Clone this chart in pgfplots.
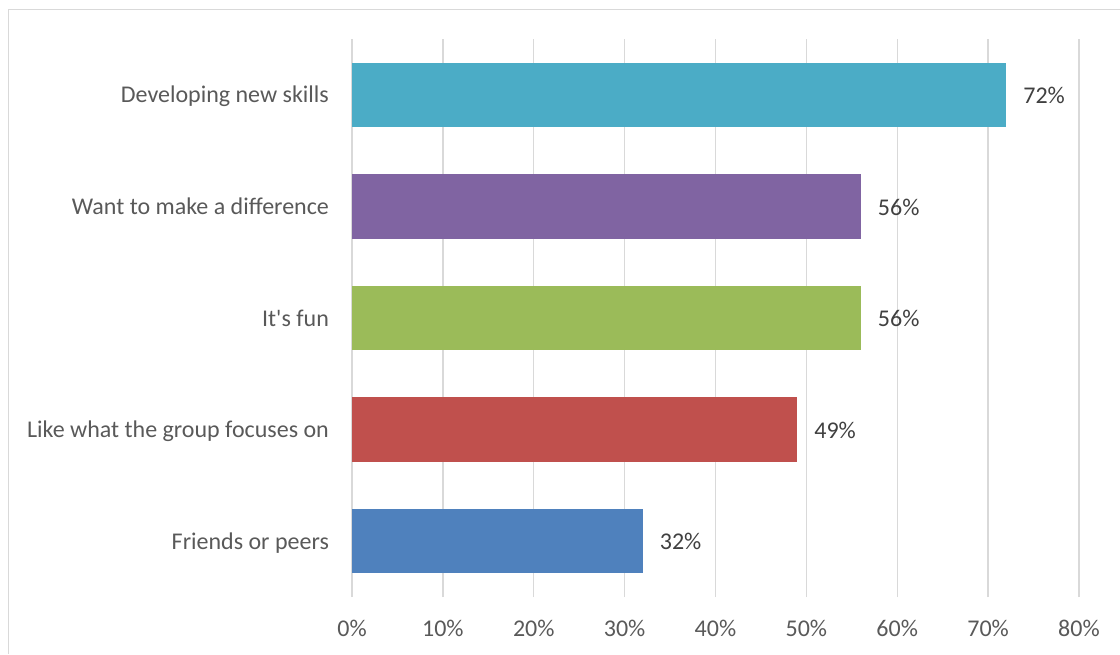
\documentclass[border=0pt]{standalone}
\usepackage{pgfplots}
\pgfplotsset{compat=1.18}
\usepackage{fontspec}
\setmainfont{Carlito}
\definecolor{cteal}{HTML}{4BACC6}
\definecolor{cpurple}{HTML}{8064A2}
\definecolor{cgreen}{HTML}{9BBB59}
\definecolor{cred}{HTML}{C0504D}
\definecolor{cblue}{HTML}{4F81BD}
\definecolor{gridc}{HTML}{D9D9D9}
\definecolor{labc}{HTML}{595959}
\definecolor{datc}{HTML}{404040}
\begin{document}
\begin{tikzpicture}
\useasboundingbox (0,0) rectangle (560pt,327pt);
\draw[gridc, line width=0.7pt] (4.35pt,0pt) -- (4.35pt,322.25pt) -- (560pt,322.25pt);
\begin{axis}[
  at={(176pt,28.5pt)}, anchor=south west,
  scale only axis, width=363.5pt, height=279pt,
  xbar, bar width=0.578, bar shift=0pt,
  xmin=0, xmax=80, ymin=-0.5, ymax=4.5,
  xtick={0,10,...,80},
  xticklabels={0\%,10\%,20\%,30\%,40\%,50\%,60\%,70\%,80\%},
  ytick={0,1,2,3,4},
  yticklabels={Friends or peers,Like what the group focuses on,It\textquotesingle s fun,Want to make a difference,Developing new skills},
  axis line style={draw=none},
  major tick length=0pt,
  xmajorgrids, grid style={gridc, line width=0.7pt},
  /pgf/number format/assume math mode=true,
  every tick label/.append style={font=\fontsize{12}{14}\selectfont, text=labc},
  xticklabel style={anchor=base, inner sep=0pt, yshift=-19.5pt},
  yticklabel style={anchor=base east, inner sep=0pt, xshift=-11.35pt, yshift=-4pt},
  nodes near coords={\pgfmathprintnumber{\pgfplotspointmeta}\%},
  nodes near coords style={anchor=base west, inner sep=0pt, xshift=8.35pt, yshift=-4.3pt, font=\fontsize{12}{14}\selectfont, text=datc},
  point meta=x,
  clip=false,
]
\addplot[fill=cblue, draw=none] coordinates {(32,0)};
\addplot[fill=cred, draw=none] coordinates {(49,1)};
\addplot[fill=cgreen, draw=none] coordinates {(56,2)};
\addplot[fill=cpurple, draw=none] coordinates {(56,3)};
\addplot[fill=cteal, draw=none] coordinates {(72,4)};
\end{axis}
\end{tikzpicture}
\end{document}
